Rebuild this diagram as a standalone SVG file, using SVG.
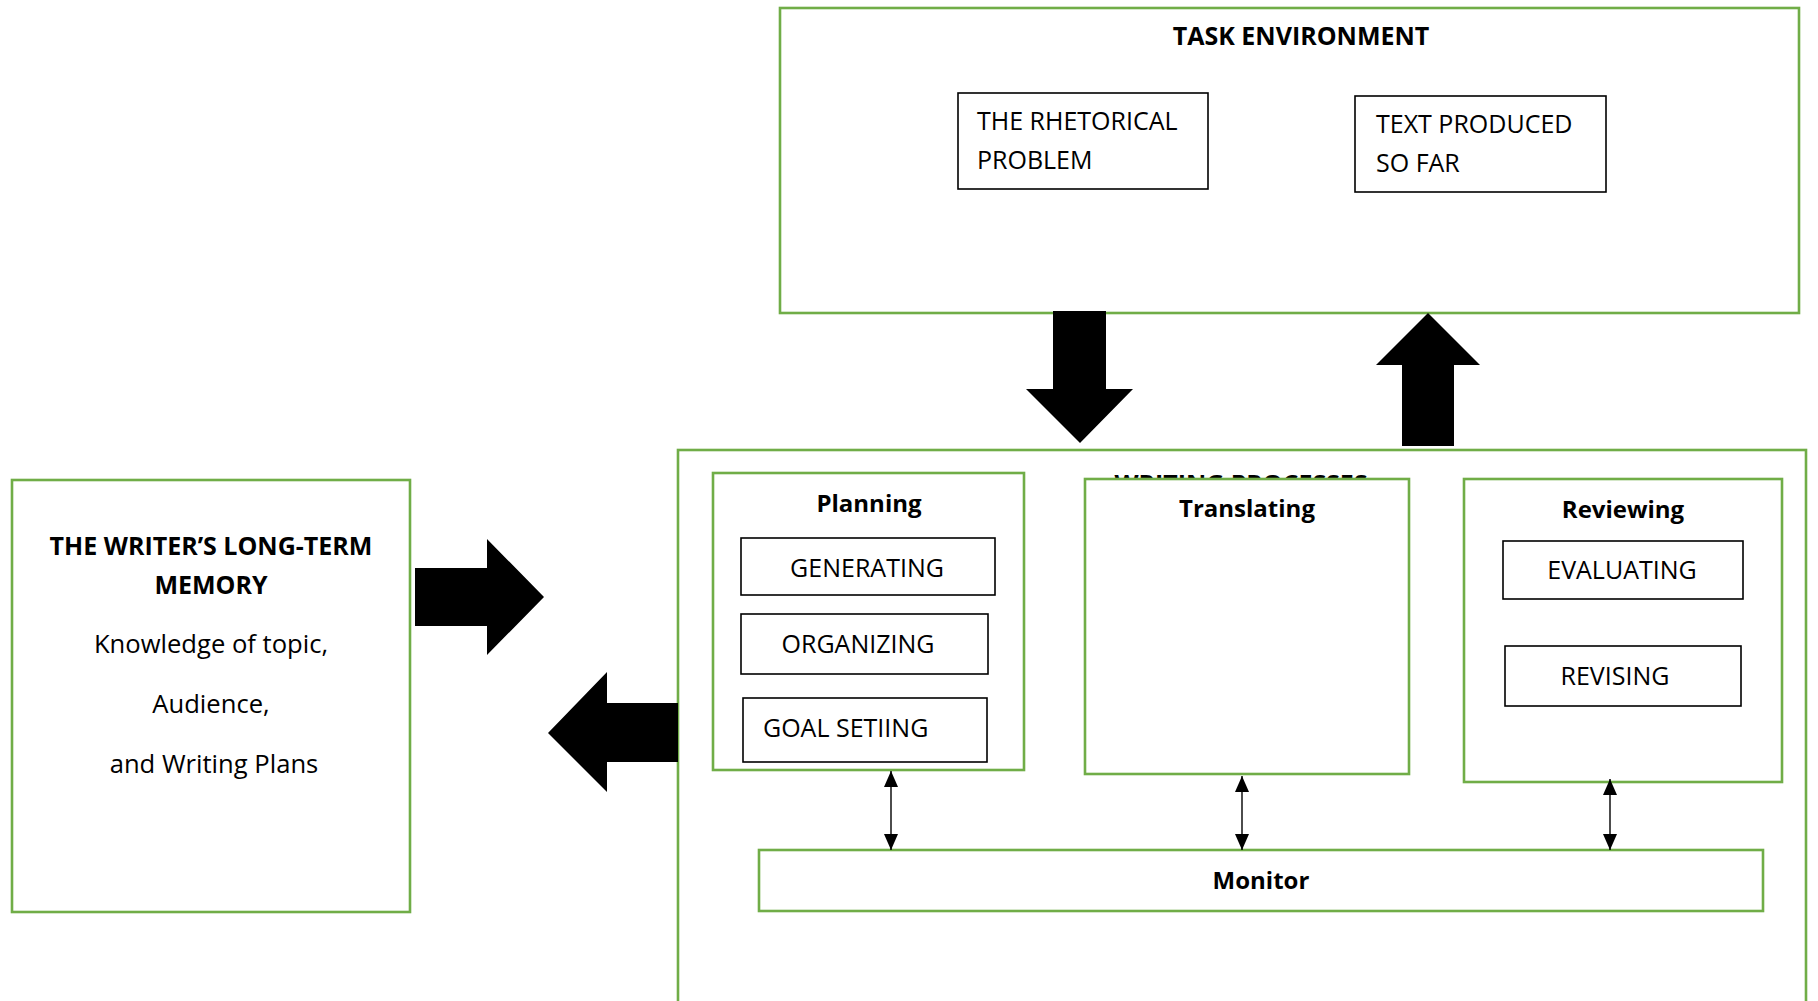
<svg xmlns="http://www.w3.org/2000/svg" width="1818" height="1001" viewBox="0 0 1818 1001">
  <style>
    .green { fill: #ffffff; stroke: #70AD47; stroke-width: 2.6; }
    .inner { fill: #ffffff; stroke: #000000; stroke-width: 1.6; }
    .title { font-family: "Open Sans", "Liberation Sans", sans-serif; font-weight: bold; font-size: 24px; fill: #000; text-anchor: middle; }
    .big { font-size: 25px; }
    .label { font-family: "Open Sans", "Liberation Sans", sans-serif; font-size: 25px; fill: #000; }
    .body { font-size: 25.6px; }
    .mid { text-anchor: middle; }
    .block { fill: #000000; }
    .thin { stroke: #000; stroke-width: 1.4; fill: none; marker-start: url(#head); marker-end: url(#head); }
  </style>
  <defs>
    <marker id="head" viewBox="0 0 16 14" refX="16" refY="7" markerWidth="16" markerHeight="14" markerUnits="userSpaceOnUse" orient="auto-start-reverse">
      <path d="M0,0 L16,7 L0,14 Z" fill="#000"/>
    </marker>
  </defs>

  <!-- Task environment -->
  <g id="task-environment">
    <rect class="green" x="780" y="8" width="1019" height="305"/>
    <text class="title big" x="1301" y="45">TASK ENVIRONMENT</text>
  </g>
  <g id="rhetorical-problem">
    <rect class="inner" x="958" y="93" width="250" height="96"/>
    <text class="label" x="977" y="130">THE RHETORICAL</text>
    <text class="label" x="977" y="169">PROBLEM</text>
  </g>
  <g id="text-produced">
    <rect class="inner" x="1355" y="96" width="251" height="96"/>
    <text class="label" x="1376" y="133">TEXT PRODUCED</text>
    <text class="label" x="1376" y="172">SO FAR</text>
  </g>

  <!-- Long-term memory -->
  <g id="long-term-memory">
    <rect class="green" x="12" y="480" width="398" height="432"/>
    <text class="title big" x="211" y="555">THE WRITER’S LONG-TERM</text>
    <text class="title big" x="211" y="594">MEMORY</text>
    <text class="label body mid" x="211" y="653">Knowledge of topic,</text>
    <text class="label body mid" x="211" y="713">Audience,</text>
    <text class="label body mid" x="214" y="773">and Writing Plans</text>
  </g>

  <!-- Writing processes: the heading sits behind the Translating panel -->
  <g id="writing-processes">
    <rect class="green" x="678" y="450" width="1128" height="560"/>
    <text class="title" x="1241" y="492" textLength="253" lengthAdjust="spacingAndGlyphs">WRITING PROCESSES</text>
  </g>
  <g id="planning">
    <rect class="green" x="713" y="473" width="311" height="297"/>
    <text class="title" x="869" y="512">Planning</text>
  </g>
  <g id="generating">
    <rect class="inner" x="741" y="538" width="254" height="57"/>
    <text class="label mid" x="867" y="577">GENERATING</text>
  </g>
  <g id="organizing">
    <rect class="inner" x="741" y="614" width="247" height="60"/>
    <text class="label mid" x="858" y="653">ORGANIZING</text>
  </g>
  <g id="goal-setting">
    <rect class="inner" x="743" y="698" width="244" height="64"/>
    <text class="label" x="763" y="737">GOAL SETIING</text>
  </g>
  <g id="translating">
    <rect class="green" x="1085" y="479" width="324" height="295"/>
    <text class="title" x="1247" y="517">Translating</text>
  </g>
  <g id="reviewing">
    <rect class="green" x="1464" y="479" width="318" height="303"/>
    <text class="title" x="1623" y="518">Reviewing</text>
  </g>
  <g id="evaluating">
    <rect class="inner" x="1503" y="541" width="240" height="58"/>
    <text class="label mid" x="1622" y="579">EVALUATING</text>
  </g>
  <g id="revising">
    <rect class="inner" x="1505" y="646" width="236" height="60"/>
    <text class="label mid" x="1615" y="685">REVISING</text>
  </g>
  <g id="monitor">
    <rect class="green" x="759" y="850" width="1004" height="61"/>
    <text class="title" x="1261" y="889">Monitor</text>
  </g>

  <!-- Connectors -->
  <g id="connectors">
    <!-- block arrows between the three main parts -->
    <polygon class="block" points="1053,311 1106,311 1106,389 1133,389 1080,443 1026,389 1053,389"/>
    <polygon class="block" points="1428,313 1480,365 1454,365 1454,446 1402,446 1402,365 1376,365"/>
    <polygon class="block" points="415,568 487,568 487,539 544,597 487,655 487,626 415,626"/>
    <polygon class="block" points="678,703 678,762 607,762 607,792 548,733 607,672 607,703"/>
    <!-- two-way links with the monitor -->
    <line class="thin" x1="891" y1="771" x2="891" y2="850"/>
    <line class="thin" x1="1242" y1="776" x2="1242" y2="850"/>
    <line class="thin" x1="1610" y1="779" x2="1610" y2="850"/>
  </g>
</svg>
